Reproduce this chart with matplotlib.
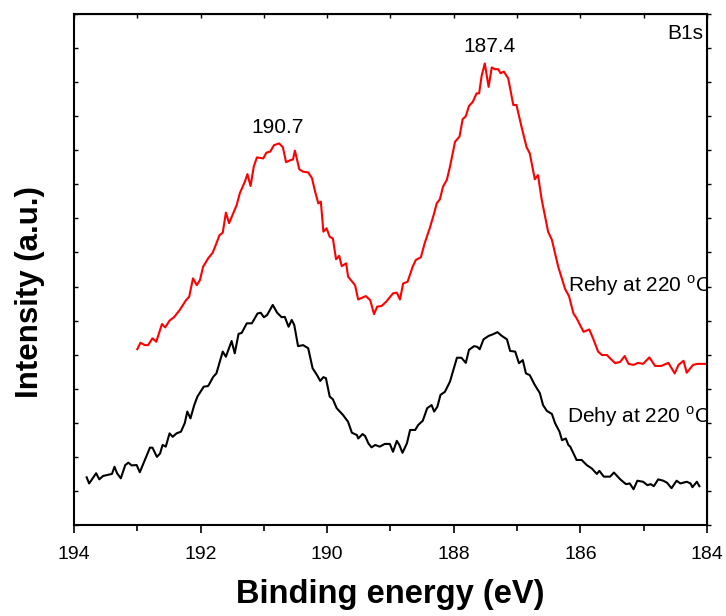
import numpy as np
import matplotlib
matplotlib.use('Agg')
import matplotlib.pyplot as plt

plt.rcParams['font.family'] = ['Liberation Sans', 'DejaVu Sans']
plt.rcParams['mathtext.fontset'] = 'custom'
plt.rcParams['mathtext.rm'] = 'Liberation Sans'

# Dehy at 220 C (black)
dehy_be = [193.80, 193.76, 193.65, 193.60, 193.54, 193.40, 193.36, 193.32, 193.26, 193.19,
           193.14, 193.09, 193.01, 192.96, 192.88, 192.80, 192.76, 192.69, 192.64, 192.60,
           192.55, 192.49, 192.44, 192.38, 192.31, 192.25, 192.21, 192.16, 192.10, 192.05,
           191.95, 191.88, 191.80, 191.75, 191.65, 191.60, 191.51, 191.46, 191.40, 191.35,
           191.27, 191.19, 191.10, 191.05, 191.00, 190.95, 190.86, 190.79, 190.72, 190.67,
           190.61, 190.56, 190.52, 190.46, 190.38, 190.30, 190.23, 190.16, 190.11, 190.06,
           190.02, 189.96, 189.91, 189.85, 189.75, 189.67, 189.61, 189.53, 189.51, 189.44,
           189.40, 189.35, 189.30, 189.24, 189.17, 189.09, 189.01, 188.96, 188.90, 188.86,
           188.81, 188.74, 188.69, 188.61, 188.56, 188.49, 188.42, 188.35, 188.31, 188.26,
           188.21, 188.14, 188.06, 187.95, 187.88, 187.81, 187.76, 187.68, 187.63, 187.59,
           187.53, 187.45, 187.38, 187.31, 187.24, 187.16, 187.11, 187.03, 186.97, 186.91,
           186.86, 186.80, 186.72, 186.64, 186.59, 186.53, 186.45, 186.40, 186.33, 186.29,
           186.23, 186.19, 186.16, 186.06, 185.98, 185.90, 185.82, 185.74, 185.70, 185.63,
           185.53, 185.47, 185.37, 185.28, 185.22, 185.16, 185.10, 185.01, 184.94, 184.89,
           184.84, 184.77, 184.69, 184.63, 184.56, 184.48, 184.42, 184.32, 184.26, 184.23,
           184.16, 184.12]
dehy_int = [1.40, 1.22, 1.52, 1.34, 1.44, 1.50, 1.71, 1.52, 1.37, 1.76,
            1.83, 1.75, 1.76, 1.55, 1.91, 2.27, 2.27, 2.00, 2.10, 2.35,
            2.30, 2.69, 2.59, 2.69, 2.74, 2.99, 3.33, 3.13, 3.52, 3.77,
            4.06, 4.08, 4.35, 4.45, 5.09, 4.94, 5.40, 5.04, 5.61, 5.64,
            5.92, 5.92, 6.21, 6.23, 6.10, 6.16, 6.46, 6.23, 6.10, 6.11,
            5.82, 6.02, 5.87, 5.25, 5.28, 5.19, 4.60, 4.40, 4.23, 4.34,
            4.31, 3.77, 3.69, 3.43, 3.23, 3.03, 2.71, 2.64, 2.54, 2.67,
            2.61, 2.40, 2.28, 2.35, 2.30, 2.38, 2.38, 2.15, 2.47, 2.35,
            2.12, 2.40, 2.79, 2.79, 2.94, 3.06, 3.43, 3.52, 3.33, 3.47,
            3.82, 3.91, 4.21, 4.91, 4.91, 4.76, 5.14, 5.25, 5.23, 5.16,
            5.45, 5.55, 5.60, 5.66, 5.55, 5.45, 5.11, 5.09, 4.75, 4.84,
            4.45, 4.40, 4.11, 3.87, 3.52, 3.35, 3.26, 2.99, 2.74, 2.49,
            2.54, 2.35, 2.30, 1.91, 1.91, 1.76, 1.66, 1.50, 1.59, 1.42,
            1.42, 1.54, 1.34, 1.20, 1.22, 1.05, 1.30, 1.27, 1.17, 1.20,
            1.14, 1.34, 1.30, 1.24, 1.08, 1.30, 1.22, 1.27, 1.22, 1.11,
            1.27, 1.14]

# Rehy at 220 C (red)
rehy_be = [193.00, 192.95, 192.88, 192.83, 192.76, 192.70, 192.61, 192.56, 192.49, 192.42,
           192.33, 192.23, 192.18, 192.12, 192.06, 192.01, 191.96, 191.88, 191.81, 191.76,
           191.70, 191.65, 191.60, 191.55, 191.48, 191.43, 191.38, 191.30, 191.26, 191.21,
           191.16, 191.11, 191.01, 190.96, 190.90, 190.84, 190.76, 190.70, 190.65, 190.58,
           190.54, 190.51, 190.44, 190.38, 190.30, 190.24, 190.19, 190.14, 190.10, 190.06,
           190.01, 189.96, 189.91, 189.86, 189.81, 189.77, 189.70, 189.67, 189.56, 189.51,
           189.39, 189.32, 189.26, 189.21, 189.14, 189.07, 188.96, 188.90, 188.85, 188.80,
           188.73, 188.65, 188.60, 188.52, 188.46, 188.38, 188.31, 188.27, 188.22, 188.17,
           188.11, 188.06, 187.98, 187.91, 187.86, 187.81, 187.76, 187.70, 187.64, 187.60,
           187.56, 187.51, 187.45, 187.40, 187.35, 187.30, 187.26, 187.21, 187.14, 187.06,
           187.01, 186.93, 186.85, 186.80, 186.72, 186.67, 186.61, 186.51, 186.45, 186.35,
           186.24, 186.18, 186.11, 186.06, 185.95, 185.86, 185.80, 185.72, 185.66, 185.58,
           185.53, 185.45, 185.37, 185.30, 185.24, 185.16, 185.09, 185.01, 184.91, 184.82,
           184.72, 184.61, 184.51, 184.45, 184.37, 184.32, 184.22, 184.15, 184.10, 184.03]
rehy_int = [5.16, 5.35, 5.28, 5.28, 5.48, 5.38, 5.90, 5.80, 6.00, 6.10,
            6.31, 6.60, 6.70, 7.24, 7.04, 7.19, 7.58, 7.83, 7.99, 8.22,
            8.51, 8.58, 9.17, 8.86, 9.17, 9.39, 9.74, 10.08, 10.30, 9.95,
            10.52, 10.79, 10.76, 10.93, 10.96, 11.15, 11.20, 11.09, 10.65, 10.71,
            10.73, 10.99, 10.44, 10.37, 10.35, 10.18, 9.78, 9.44, 9.49, 8.61,
            8.71, 8.46, 8.41, 7.80, 7.90, 7.60, 7.68, 7.29, 7.04, 6.62,
            6.72, 6.60, 6.19, 6.41, 6.43, 6.55, 6.80, 6.82, 6.62, 7.09,
            7.14, 7.58, 7.78, 7.86, 8.27, 8.71, 9.15, 9.44, 9.56, 9.93,
            10.13, 10.52, 11.25, 11.40, 11.91, 12.00, 12.30, 12.42, 12.67, 12.67,
            13.18, 13.55, 12.86, 13.43, 13.38, 13.38, 13.26, 13.31, 13.11, 12.33,
            12.33, 11.69, 11.09, 10.91, 10.15, 10.27, 9.54, 8.61, 8.37, 7.58,
            6.92, 6.72, 6.21, 6.07, 5.67, 5.74, 5.48, 5.09, 4.99, 4.99,
            4.89, 4.75, 4.79, 4.96, 4.73, 4.70, 4.76, 4.73, 4.92, 4.67,
            4.67, 4.76, 4.45, 4.70, 4.82, 4.47, 4.70, 4.73, 4.73, 4.73]

x_ticks = [194, 192, 190, 188, 186, 184]
x_minor = [193, 191, 189, 187, 185]
y_ticks = np.arange(0, 16, 1)

fig = plt.figure(figsize=(7.26, 6.16), dpi=100)
ax = fig.add_axes([0.1019, 0.1477, 0.8719, 0.8296])

ax.plot(dehy_be, dehy_int, color='black', lw=1.5)
ax.plot(rehy_be, rehy_int, color='red', lw=1.5)

ax.set_xlim(194, 184)
ax.set_ylim(0, 15)
ax.set_xticks(x_ticks)
ax.set_xticks(x_minor, minor=True)
ax.set_yticks(y_ticks)
ax.set_yticklabels([])

ax.tick_params(axis='x', which='major', direction='out', length=6, width=1.2,
               labelsize=14, pad=9)
ax.tick_params(axis='x', which='minor', direction='out', length=4, width=1.2)
ax.tick_params(axis='y', which='major', direction='in', length=3, width=1.0)
for side in ax.spines.values():
    side.set_linewidth(1.5)

# top ticks point in, right ticks point out
top = ax.secondary_xaxis('top')
top.set_xticks(x_ticks)
top.set_xticks(x_minor, minor=True)
top.set_xticklabels([])
top.tick_params(axis='x', which='both', direction='in', length=3, width=1.0)
right = ax.secondary_yaxis('right')
right.set_yticks(y_ticks)
right.set_yticklabels([])
right.tick_params(axis='y', direction='out', length=3, width=1.0)

ax.set_xlabel('Binding energy (eV)', fontsize=23.5, fontweight='bold')
ax.xaxis.set_label_coords(0.5, -0.106)
ax.set_ylabel('Intensity (a.u.)', fontsize=22.5, fontweight='bold')
ax.yaxis.set_label_coords(-0.045, 0.456)

ax.text(190.78, 11.68, '190.7', fontsize=15, ha='center', va='center')
ax.text(187.43, 14.06, '187.4', fontsize=15, ha='center', va='center')
ax.text(184.06, 14.44, 'B1s', fontsize=15, ha='right', va='center')
ax.text(186.20, 7.04, r'Rehy at 220 $^\mathregular{o}$C', fontsize=15,
        ha='left', va='center', clip_on=True)
ax.text(186.21, 3.17, r'Dehy at 220 $^\mathregular{o}$C', fontsize=15,
        ha='left', va='center', clip_on=True)

fig.savefig('out.png', dpi=100)
